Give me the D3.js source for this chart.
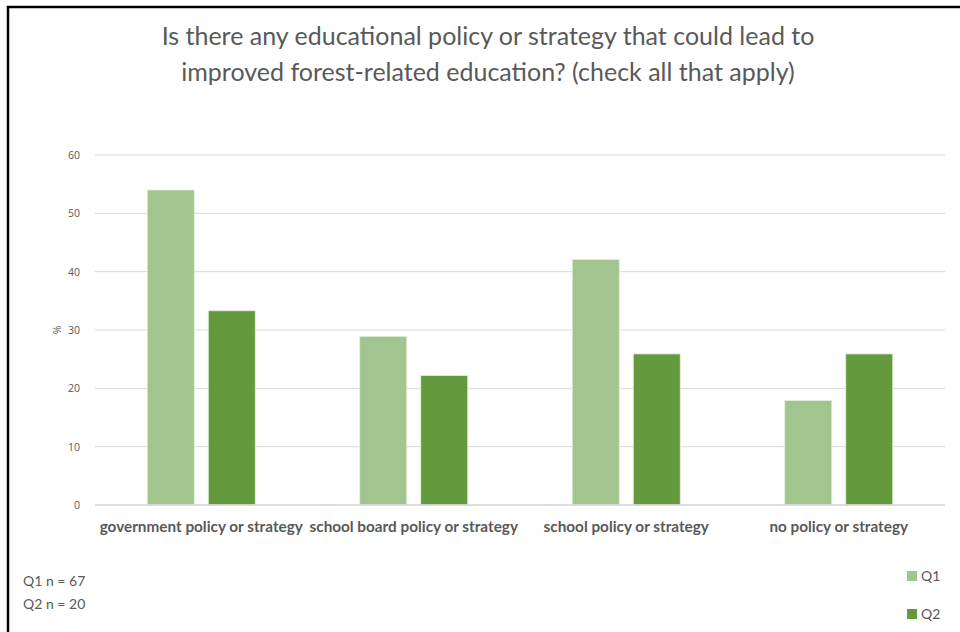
<!DOCTYPE html>
<html><head><meta charset="utf-8">
<script src="https://cdn.jsdelivr.net/npm/d3@7"></script>
<style>body{margin:0;background:#fff}svg{display:block}</style>
</head><body>
<script>
const categories = ["government policy or strategy","school board policy or strategy","school policy or strategy","no policy or strategy"];
const series = ["Q1","Q2"];
const q1Values = [54.0, 28.9, 42.1, 17.9];
const q2Values = [33.3, 22.2, 25.9, 25.9];
const yTicks = [0,10,20,30,40,50,60];
const titleLines = ["Is there any educational policy or strategy that could lead to","improved forest-related education? (check all that apply)"];
const notes = ["Q1 n = 67","Q2 n = 20"];
const colors = {Q1:"#a2c48f", Q2:"#64993e"};

const W=960,H=632;
const svg=d3.select("body").append("svg").attr("width",W).attr("height",H);
svg.append("rect").attr("width",W).attr("height",H).attr("fill","#fff");
// border
svg.append("path").attr("d","M8,"+H+" L8,7 L"+W+",7").attr("fill","none").attr("stroke","#000").attr("stroke-width",2.5);

const grey="#595959";
const title=svg.append("text").attr("x",488).attr("text-anchor","middle").attr("fill",grey)
  .style("font-family","Lato, 'Open Sans', sans-serif").style("font-size","25px");
titleLines.forEach((l,i)=>title.append("tspan").attr("x",488).attr("y",45+i*36).text(l));

const x0=d3.scaleBand().domain(categories).range([95,945]).padding(0);
const groupW=108;
const x1=d3.scaleBand().domain(series).range([0,groupW]).paddingInner(0.23).paddingOuter(0);
const y=d3.scaleLinear().domain([0,60]).range([505,155]);

// gridlines
svg.append("g").selectAll("line").data(yTicks).join("line")
  .attr("x1",95).attr("x2",945).attr("y1",d=>y(d)).attr("y2",d=>y(d))
  .attr("stroke","#d9d9d9").attr("stroke-width",1);

const yAxis=d3.axisLeft(y).tickValues(yTicks).tickSize(0).tickPadding(0);
const gy=svg.append("g").attr("transform","translate(80,0)").call(yAxis);
gy.select(".domain").remove();
gy.selectAll("text").attr("fill",grey).style("font-family","'Open Sans', sans-serif").style("font-size","10.5px");

svg.append("text").attr("transform","translate(57,330) rotate(-90)").attr("text-anchor","middle")
  .attr("dy","0.35em").attr("fill",grey).style("font-family","'Open Sans', sans-serif").style("font-size","10.5px").text("%");

const data=categories.map((c,i)=>({c,vals:[{s:"Q1",v:q1Values[i]},{s:"Q2",v:q2Values[i]}]}));
const groups=svg.append("g").selectAll("g").data(data).join("g")
  .attr("transform",d=>`translate(${x0(d.c)+(x0.bandwidth()-groupW)/2},0)`);
groups.selectAll("rect").data(d=>d.vals).join("rect")
  .attr("x",d=>x1(d.s)).attr("width",x1.bandwidth())
  .attr("y",d=>y(d.v)).attr("height",d=>y(0)-y(d.v))
  .attr("fill",d=>colors[d.s]).attr("stroke","#e2efda").attr("stroke-width",0.8);

// baseline
svg.append("line").attr("x1",95).attr("x2",945).attr("y1",y(0)).attr("y2",y(0)).attr("stroke","#d9d9d9").attr("stroke-width",1.5);

const xAxis=d3.axisBottom(x0).tickSize(0).tickPadding(0);
const gx=svg.append("g").attr("transform","translate(0,527)").call(xAxis);
gx.select(".domain").remove();
gx.selectAll("text").attr("fill",grey).attr("dy","0.35em").style("font-family","Lato, sans-serif").style("font-size","15.3px").style("font-weight","bold");

// notes
svg.append("g").selectAll("text").data(notes).join("text")
  .attr("x",23).attr("y",(d,i)=>586+i*23).attr("fill",grey)
  .style("font-family","Lato, sans-serif").style("font-size","14px").text(d=>d);

// legend
const lg=svg.append("g").selectAll("g").data(series).join("g")
  .attr("transform",(d,i)=>`translate(907,${571+i*38})`);
lg.append("rect").attr("width",10).attr("height",10).attr("fill",d=>colors[d]);
lg.append("text").attr("x",14).attr("y",5).attr("dy","0.35em").attr("fill",grey)
  .style("font-family","Lato, sans-serif").style("font-size","14px").text(d=>d);
</script>
</body></html>
